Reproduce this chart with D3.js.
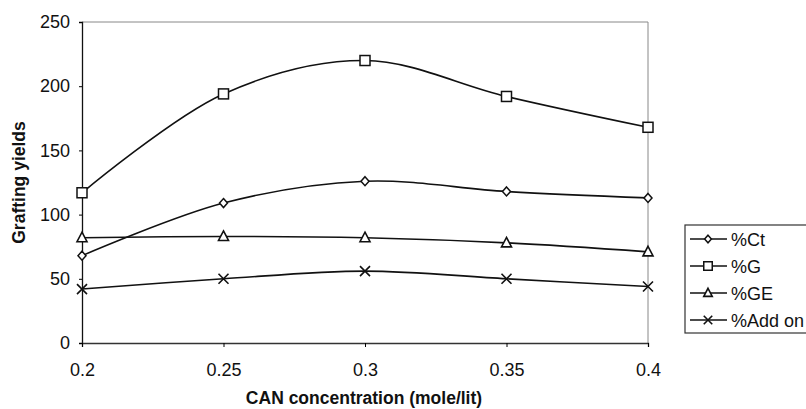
<!DOCTYPE html>
<html>
<head>
<meta charset="utf-8">
<script src="https://cdn.jsdelivr.net/npm/d3@7"></script>
<style>
  body { margin: 0; background: #fff; }
  text { font-family: "Liberation Sans", Arial, sans-serif; fill: #111; }
</style>
</head>
<body>
<svg id="chart"></svg>
<script>
const width = 806;
const height = 409;

const concentrations = [0.2, 0.25, 0.3, 0.35, 0.4];
const ct = [68, 109, 126, 118, 113];
const g = [117, 194, 220, 192, 168];
const ge = [82, 83, 82, 78, 71];
const addOn = [42, 50, 56, 50, 44];
const seriesNames = ["%Ct", "%G", "%GE", "%Add on"];
const seriesValues = [ct, g, ge, addOn];
const markers = ["diamond", "square", "triangle", "cross"];
const yTicks = [0, 50, 100, 150, 200, 250];

const margin = { left: 82, right: 158, top: 22, bottom: 66 };

const svg = d3.select("#chart").attr("width", width).attr("height", height);

const x = d3.scaleLinear()
  .domain([0.2, 0.4])
  .range([margin.left, width - margin.right]);

const y = d3.scaleLinear()
  .domain([0, 250])
  .range([height - margin.bottom, margin.top]);

// plot frame (top and right thin gray)
svg.append("path")
  .attr("d", `M${x(0.2)},${y(250)}H${x(0.4)}V${y(0)}`)
  .attr("fill", "none")
  .attr("stroke", "#888")
  .attr("stroke-width", 1);

const yAxis = svg.append("g")
  .attr("transform", `translate(${margin.left},0)`)
  .call(d3.axisLeft(y).tickValues(yTicks).tickSize(3).tickPadding(9));
yAxis.select(".domain").attr("stroke", "#111").attr("stroke-width", 1.3);
yAxis.selectAll("text").style("font-size", "18px");

const xAxis = svg.append("g")
  .attr("transform", `translate(0,${y(0)})`)
  .call(d3.axisBottom(x).tickValues(concentrations).tickFormat(d3.format("")).tickSize(4).tickPadding(16));
xAxis.select(".domain").attr("stroke", "#333").attr("stroke-width", 1.3);
xAxis.selectAll("text").style("font-size", "18px");

svg.append("text")
  .attr("x", 364)
  .attr("y", 404)
  .attr("text-anchor", "middle")
  .style("font-size", "17.5px")
  .style("font-weight", "bold")
  .text("CAN concentration (mole/lit)");

svg.append("text")
  .attr("transform", `translate(25,${(y(0) + y(250)) / 2}) rotate(-90)`)
  .attr("text-anchor", "middle")
  .style("font-size", "17.5px")
  .style("font-weight", "bold")
  .text("Grafting yields");

const line = d3.line()
  .x((d, i) => x(concentrations[i]))
  .y(d => y(d))
  .curve(d3.curveCatmullRom.alpha(0.5));

function drawMarker(sel, type, cx, cy, k = 1) {
  if (type === "diamond") {
    sel.append("path")
      .attr("d", `M${cx},${cy - 4.5 * k}L${cx + 4 * k},${cy}L${cx},${cy + 4.5 * k}L${cx - 4 * k},${cy}Z`)
      .attr("fill", "#fff").attr("stroke", "#111").attr("stroke-width", 1.5);
  } else if (type === "square") {
    sel.append("rect")
      .attr("x", cx - 5 * k).attr("y", cy - 5 * k).attr("width", 10 * k).attr("height", 10 * k)
      .attr("fill", "#fff").attr("stroke", "#111").attr("stroke-width", 1.5);
  } else if (type === "triangle") {
    sel.append("path")
      .attr("d", `M${cx},${cy - 5.5 * k}L${cx + 5 * k},${cy + 4 * k}L${cx - 5 * k},${cy + 4 * k}Z`)
      .attr("fill", "#fff").attr("stroke", "#111").attr("stroke-width", 1.6);
  } else {
    sel.append("path")
      .attr("d", `M${cx - 5 * k},${cy - 5 * k}L${cx + 5 * k},${cy + 5 * k}M${cx - 5 * k},${cy + 5 * k}L${cx + 5 * k},${cy - 5 * k}`)
      .attr("stroke", "#111").attr("stroke-width", 1.6);
  }
}

seriesValues.forEach(vals => {
  svg.append("path")
    .attr("d", line(vals))
    .attr("fill", "none")
    .attr("stroke", "#111")
    .attr("stroke-width", 1.6);
});

seriesValues.forEach((vals, s) => {
  const grp = svg.append("g");
  vals.forEach((v, i) => drawMarker(grp, markers[s], x(concentrations[i]), y(v)));
});

// legend
const legend = svg.append("g").attr("id", "legend");
legend.append("rect")
  .attr("x", 685).attr("y", 225)
  .attr("width", 130).attr("height", 108)
  .attr("fill", "#fff")
  .attr("stroke", "#333")
  .attr("stroke-width", 1.2);

seriesNames.forEach((name, i) => {
  const ly = 239 + i * 27;
  legend.append("line")
    .attr("x1", 690).attr("x2", 727)
    .attr("y1", ly).attr("y2", ly)
    .attr("stroke", "#111").attr("stroke-width", 1.6);
  drawMarker(legend, markers[i], 708, ly, 0.85);
  legend.append("text")
    .attr("x", 731).attr("y", ly + 6.5)
    .style("font-size", "18px")
    .text(name);
});
</script>
</body>
</html>
